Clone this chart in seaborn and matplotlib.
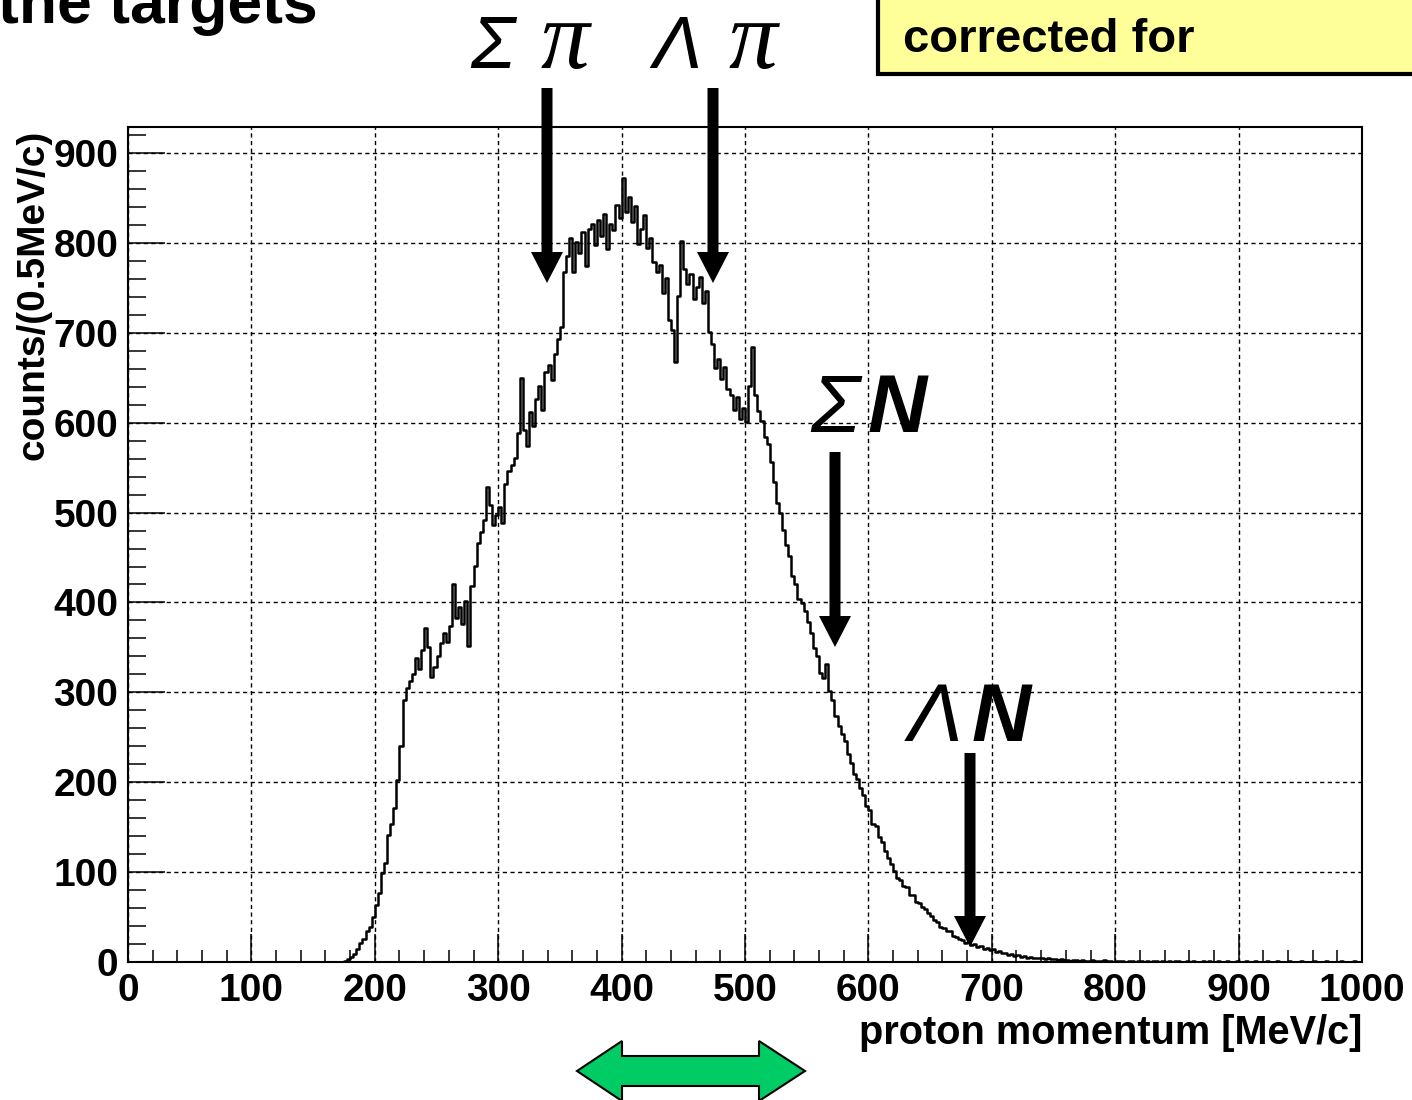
import numpy as np
import pandas as pd
import matplotlib
matplotlib.use("Agg")
import matplotlib.pyplot as plt
import seaborn as sns
from matplotlib.patches import Polygon, Rectangle

# ---------------- data ----------------
bin_width = 2.5          # MeV/c per drawn bin
first_edge = 170.0       # MeV/c

counts_rise = [0, 0, 1, 3, 6, 9, 14, 21, 26, 34, 39, 50,
               63, 77, 99, 110, 141, 153, 171, 203, 240, 292, 305, 313,
               320, 338, 326, 347, 372, 350, 317, 328, 341, 355, 366, 356,
               374, 420, 383, 395, 376, 402, 352, 418, 441, 466, 478, 492,
               528, 508, 486, 497, 506, 488, 532, 546, 553, 561, 588, 650,
               592, 574, 612, 596, 626, 641, 614, 656, 664, 647, 676, 693]
counts_peak = [706, 768, 786, 806, 768, 801, 789, 812, 774, 816,
               821, 798, 826, 808, 832, 793, 821, 814, 842, 828,
               872, 834, 851, 823, 841, 799, 816, 831, 794, 806,
               779, 768, 776, 744, 761, 714, 703, 668, 741, 802,
               771, 754, 766, 738, 751, 762, 733, 746, 701, 688,
               661, 671, 649, 662, 638, 631, 614, 629, 604, 616,
               601, 641, 684, 631, 613, 602, 584, 576, 556, 534]
counts_fall = [511, 499, 481, 464, 452, 429, 421, 404, 399, 391,
               378, 366, 349, 341, 321, 316, 331, 301, 291, 274,
               263, 254, 246, 231, 221, 209, 204, 194, 186, 174,
               169, 154, 151, 139, 133, 124, 116, 109, 101, 94,
               91, 85, 83, 75, 74, 67, 66, 61, 59, 54,
               51, 47, 45, 39, 38, 34, 34, 29, 28, 26,
               25, 21, 22, 19, 20, 17, 18, 15, 16, 13,
               14, 11, 12, 10, 10, 8, 9, 7, 8, 6,
               7, 5, 6, 5, 5, 4, 5, 3, 4, 3,
               3, 2, 3, 2]
counts_tail = [2, 1, 2, 2, 1, 2, 1, 1, 2, 1,
               1, 1, 2, 1, 1, 0, 1, 1, 1, 0,
               1, 1, 0, 1, 1, 0, 1, 0, 1, 1,
               0, 1, 0, 1, 0, 1, 1, 0, 0, 1,
               0, 1, 0, 0, 1, 0, 1, 0, 0, 1,
               0, 0, 1, 0, 0, 1, 0, 0, 1, 0,
               0, 1, 0, 0, 0, 1, 0, 0, 1, 0,
               0, 0, 1, 0, 0, 0, 1, 0, 0, 0,
               1, 0, 0, 0, 1, 0, 0, 0, 0, 1,
               0, 0, 0, 1, 0, 0]

x_ticks = [0, 100, 200, 300, 400, 500, 600, 700, 800, 900, 1000]
y_ticks = [0, 100, 200, 300, 400, 500, 600, 700, 800, 900]
x_label = "proton momentum [MeV/c]"
y_label = "counts/(0.5MeV/c)"

counts = np.array(counts_rise + counts_peak + counts_fall + counts_tail, dtype=float)
n_bins = len(counts)
last_edge = first_edge + bin_width * n_bins
centers = first_edge + bin_width * (np.arange(n_bins) + 0.5)
df = pd.DataFrame({"momentum": centers, "counts": counts})

# ---------------- figure ----------------
W, H = 1412, 1100
sns.set_theme(style="ticks")
plt.rcParams['font.family'] = ['Liberation Sans', 'DejaVu Sans']
plt.rcParams['text.color'] = 'black'
plt.rcParams['axes.labelcolor'] = 'black'
plt.rcParams['xtick.color'] = 'black'
plt.rcParams['ytick.color'] = 'black'

fig = plt.figure(figsize=(W / 100, H / 100), dpi=100)
fig.patch.set_facecolor("white")


def F(x, y):
    return (x / W, 1 - y / H)


ax = fig.add_axes([128 / W, 1 - 962 / H, (1362 - 128) / W, (962 - 127) / H])
ax.set_facecolor("white")

sns.histplot(data=df, x="momentum", weights="counts",
             binwidth=bin_width, binrange=(first_edge, last_edge),
             element="step", fill=False, color="black", linewidth=1.8, ax=ax)

ax.set_xlim(0, 1000)
ax.set_ylim(0, 929)
ax.set_xticks(x_ticks)
ax.set_xticks(np.arange(0, 1001, 20), minor=True)
ax.set_yticks(y_ticks)
ax.set_yticks(np.arange(0, 921, 20), minor=True)
ax.grid(True, which="major", color="black", linestyle=(0, (3, 2.5)), linewidth=1.0)
ax.set_axisbelow(True)

ax.tick_params(which="both", direction="in", top=False, right=False,
               colors="black", labelcolor="black")
ax.tick_params(axis="y", which="major", length=26.5, width=1.1, pad=7, labelsize=28)
ax.tick_params(axis="y", which="minor", length=13, width=1.1)
ax.tick_params(axis="x", which="major", length=20, width=1.1, pad=8, labelsize=28)
ax.tick_params(axis="x", which="minor", length=9, width=1.1)
for lbl in ax.get_xticklabels() + ax.get_yticklabels():
    lbl.set_fontweight("bold")
for s in ax.spines.values():
    s.set_visible(True)
    s.set_color("black")
    s.set_linewidth(1.5)

ax.set_ylabel(y_label, fontsize=28, fontweight="bold", color="black")
ax.yaxis.set_label_coords(-0.0762, 0.799)
ax.yaxis.label.set_verticalalignment("center")
ax.set_xlabel(x_label, fontsize=28.6, fontweight="bold", loc="right", color="black")
ax.xaxis.set_label_coords(1.0, -0.085)
ax.xaxis.label.set_verticalalignment("center")

# ---------------- annotations ----------------
fig.text(*F(-2, 23), "the targets", fontsize=45, fontweight="bold",
         ha="left", va="baseline", color="black")

fig.add_artist(Rectangle(F(878, 74), (1430 - 878) / W, 100 / H,
                         transform=fig.transFigure, facecolor="#ffff99",
                         edgecolor="black", linewidth=3, clip_on=False))
fig.text(*F(903, 52), "corrected for", fontsize=34, fontweight="bold",
         ha="left", va="baseline", color="black")

greek_sans = dict(fontsize=53, style="italic", va="baseline", ha="left", color="black")
greek_serif = dict(fontsize=70, style="italic", va="baseline", ha="left", color="black",
                   family=["Liberation Serif", "DejaVu Serif"])
fig.text(*F(470, 68), "Σ", **greek_sans)
fig.text(*F(540, 68), "π", **greek_serif)
fig.text(*F(652, 68), "Λ", **greek_sans)
fig.text(*F(728, 68), "π", **greek_serif)

fig.text(*F(810, 432), "Σ", fontsize=59, style="italic", va="baseline", ha="left",
         color="black")
fig.text(*F(868, 432), "N", fontsize=59, style="italic", fontweight="bold",
         va="baseline", ha="left", color="black")
fig.text(*F(908, 741), "Λ", fontsize=59, style="italic", va="baseline", ha="left",
         color="black")
fig.text(*F(972, 741), "N", fontsize=59, style="italic", fontweight="bold",
         va="baseline", ha="left", color="black")


def down_arrow(x, y_top, y_tip, sw=11, hw=32, hl=31):
    pts = [(x - sw / 2, y_top), (x + sw / 2, y_top), (x + sw / 2, y_tip - hl),
           (x + hw / 2, y_tip - hl), (x, y_tip), (x - hw / 2, y_tip - hl),
           (x - sw / 2, y_tip - hl)]
    fig.add_artist(Polygon([F(px, py) for px, py in pts], closed=True,
                           transform=fig.transFigure, facecolor="black",
                           edgecolor="none", zorder=5))


down_arrow(547, 88, 283)
down_arrow(713, 88, 283)
down_arrow(835, 452, 647)
down_arrow(970, 753, 947)

green_pts = [(577, 1071), (622, 1041), (622, 1056), (759, 1056), (759, 1041),
             (805, 1071), (759, 1101), (759, 1086), (622, 1086), (622, 1101)]
fig.add_artist(Polygon([F(px, py) for px, py in green_pts], closed=True,
                       transform=fig.transFigure, facecolor="#00cc66",
                       edgecolor="black", linewidth=1.5, zorder=5))

fig.savefig("out.png", dpi=100, facecolor="white")
